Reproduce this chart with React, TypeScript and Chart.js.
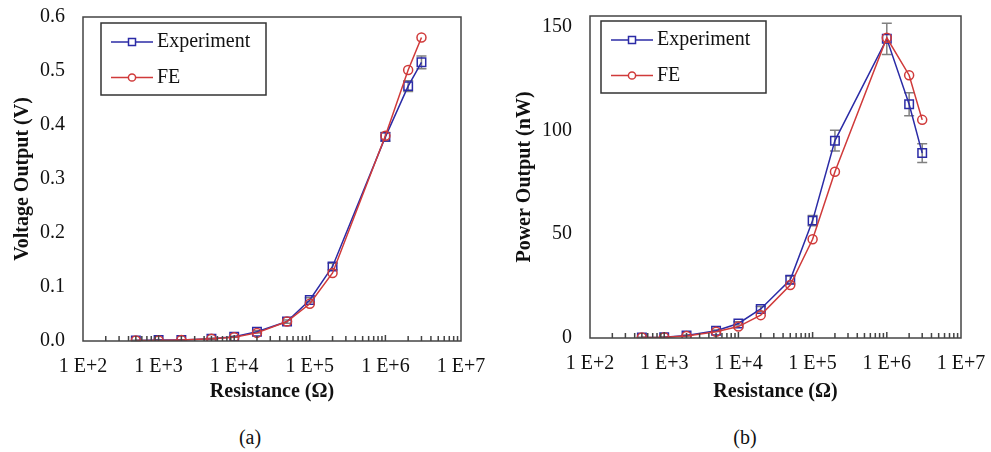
import React, { useEffect, useRef } from 'react';
import { Chart, registerables } from 'chart.js';

Chart.register(...registerables);

// ---------- data ----------
const resistance = [500, 1000, 2000, 5000, 1e4, 2e4, 5e4, 1e5, 2e5, 1e6, 2e6, 3e6];

const voltageExp = [0.001, 0.002, 0.002, 0.004, 0.008, 0.017, 0.036, 0.076, 0.138, 0.378, 0.472, 0.516];
const voltageExpErr = [0.0005, 0.0005, 0.0005, 0.001, 0.001, 0.002, 0.003, 0.004, 0.006, 0.008, 0.01, 0.012];
const voltageFE = [0.001, 0.001, 0.002, 0.004, 0.007, 0.015, 0.036, 0.069, 0.126, 0.38, 0.502, 0.562];

const powerExp = [0.3, 0.4, 1.2, 3.5, 7.0, 14.0, 28.0, 56.5, 95.0, 144.0, 112.5, 89.0];
const powerExpErr = [0.1, 0.1, 0.2, 0.4, 0.8, 1.2, 1.8, 2.5, 5.0, 7.5, 5.5, 4.5];
const powerFE = [0.3, 0.4, 1.0, 3.0, 5.5, 11.0, 25.5, 47.5, 80.0, 144.5, 126.5, 105.0];

const xMajorTicks = [1e2, 1e3, 1e4, 1e5, 1e6, 1e7];
const xTickLabels = ['1 E+2', '1 E+3', '1 E+4', '1 E+5', '1 E+6', '1 E+7'];
const xMinorMultipliers = [2, 3, 4, 5, 6, 7, 8, 9];

const voltageTicks = [0, 0.1, 0.2, 0.3, 0.4, 0.5, 0.6];
const voltageTickLabels = ['0.0', '0.1', '0.2', '0.3', '0.4', '0.5', '0.6'];
const powerTicks = [0, 50, 100, 150];
const powerTickLabels = ['0', '50', '100', '150'];

const seriesNames = ['Experiment', 'FE'];

// ---------- styles ----------
const FONT = "'Liberation Serif', 'Times New Roman', serif";
const BLUE = '#2b2ba6';
const RED = '#d03a3a';
const ERR = '#808080';
const AXIS = '#444444';

const allXTicks: number[] = [];
for (let i = 0; i < xMajorTicks.length; i++) {
  allXTicks.push(xMajorTicks[i]);
  if (i < xMajorTicks.length - 1) {
    xMinorMultipliers.forEach((m) => allXTicks.push(m * xMajorTicks[i]));
  }
}

const frameTicksPlugin = {
  id: 'frameTicks',
  afterDraw(chart: any) {
    const { ctx, chartArea: a } = chart;
    const xs = chart.scales.x;
    ctx.save();
    ctx.strokeStyle = AXIS;
    ctx.lineWidth = 1.5;
    ctx.beginPath();
    xs.ticks.forEach((t: any) => {
      const px = xs.getPixelForValue(t.value);
      if (px <= a.left + 1 || px >= a.right - 1) return;
      const len = xMajorTicks.includes(t.value) ? 6 : 5;
      ctx.moveTo(px, a.bottom);
      ctx.lineTo(px, a.bottom - len);
    });
    ctx.stroke();
    ctx.strokeRect(a.left, a.top, a.right - a.left, a.bottom - a.top);
    ctx.restore();
  },
};

const errorBarPlugin = {
  id: 'errorBars',
  beforeDatasetsDraw(chart: any) {
    const { ctx } = chart;
    const ys = chart.scales.y;
    chart.data.datasets.forEach((ds: any, i: number) => {
      const errs: number[] | undefined = ds.errors;
      if (!errs) return;
      const meta = chart.getDatasetMeta(i);
      ctx.save();
      ctx.strokeStyle = ERR;
      ctx.lineWidth = 1.5;
      meta.data.forEach((pt: any, j: number) => {
        const v = ds.data[j].y;
        const e = errs[j];
        const yTop = ys.getPixelForValue(v + e);
        const yBot = ys.getPixelForValue(v - e);
        const x = pt.x;
        ctx.beginPath();
        ctx.moveTo(x, yTop);
        ctx.lineTo(x, yBot);
        ctx.moveTo(x - 5, yTop);
        ctx.lineTo(x + 5, yTop);
        ctx.moveTo(x - 5, yBot);
        ctx.lineTo(x + 5, yBot);
        ctx.stroke();
      });
      ctx.restore();
    });
  },
};

const boxLegendPlugin = {
  id: 'boxLegend',
  afterDraw(chart: any) {
    const o = chart.options.plugins.boxLegend || {};
    const { ctx, chartArea: a } = chart;
    const x0 = a.left + (o.dx ?? 18);
    const y0 = a.top + (o.dy ?? 6);
    const w = 165;
    const h = 72;
    ctx.save();
    ctx.fillStyle = '#ffffff';
    ctx.fillRect(x0, y0, w, h);
    ctx.strokeStyle = '#333333';
    ctx.lineWidth = 1.5;
    ctx.strokeRect(x0, y0, w, h);
    chart.data.datasets.forEach((ds: any, i: number) => {
      const y = y0 + 19 + i * 35.5;
      ctx.strokeStyle = ds.borderColor;
      ctx.lineWidth = 1.5;
      ctx.beginPath();
      ctx.moveTo(x0 + 10, y);
      ctx.lineTo(x0 + 52, y);
      ctx.stroke();
      ctx.beginPath();
      if (ds.pointStyle === 'rect') {
        ctx.rect(x0 + 31 - 3.5, y - 3.5, 7, 7);
      } else {
        ctx.arc(x0 + 31, y, 3.6, 0, Math.PI * 2);
      }
      ctx.fillStyle = '#ffffff';
      ctx.fill();
      ctx.stroke();
      ctx.fillStyle = '#111111';
      ctx.font = `20px ${FONT}`;
      ctx.textBaseline = 'middle';
      ctx.textAlign = 'left';
      ctx.fillText(ds.label, x0 + 56, y);
    });
    ctx.restore();
  },
};

type PanelProps = {
  expValues: number[];
  expErrors: number[];
  feValues: number[];
  yTicks: number[];
  yTickLabels: string[];
  yMax: number;
  yTitle: string;
  width: number;
  height: number;
  plotLeft: number;
  plotRight: number;
  padTop: number;
  xAxisHeight: number;
  yTitlePad: number;
  legendDx: number;
  legendDy: number;
};

function Panel(p: PanelProps) {
  const ref = useRef<HTMLCanvasElement | null>(null);
  useEffect(() => {
    if (!ref.current) return;
    const chart = new Chart(ref.current, {
      type: 'line',
      data: {
        datasets: [
          {
            label: seriesNames[0],
            data: resistance.map((r, i) => ({ x: r, y: p.expValues[i] })),
            borderColor: BLUE,
            backgroundColor: 'rgba(0,0,0,0)',
            borderWidth: 1.5,
            pointStyle: 'rect',
            pointRadius: 6,
            pointBorderWidth: 1.5,
            pointBorderColor: BLUE,
            pointBackgroundColor: 'rgba(0,0,0,0)',
            tension: 0,
            order: 1,
            errors: p.expErrors,
          } as any,
          {
            label: seriesNames[1],
            data: resistance.map((r, i) => ({ x: r, y: p.feValues[i] })),
            borderColor: RED,
            backgroundColor: 'rgba(0,0,0,0)',
            borderWidth: 1.5,
            pointStyle: 'circle',
            pointRadius: 4.5,
            pointBorderWidth: 1.5,
            pointBorderColor: RED,
            pointBackgroundColor: 'rgba(0,0,0,0)',
            tension: 0,
            order: 0,
          } as any,
        ],
      },
      options: {
        animation: false,
        responsive: false,
        maintainAspectRatio: false,
        layout: {
          autoPadding: false,
          padding: {
            left: 0,
            top: p.padTop,
            right: p.width - p.plotRight,
            bottom: 0,
          },
        } as any,
        plugins: {
          legend: { display: false },
          tooltip: { enabled: false },
          boxLegend: { dx: p.legendDx, dy: p.legendDy },
        } as any,
        scales: {
          x: {
            type: 'logarithmic',
            min: 100,
            max: 1e7,
            grid: { display: false, drawTicks: false },
            border: { display: false },
            afterBuildTicks: (scale: any) => {
              scale.ticks = allXTicks.map((v) => ({ value: v, major: xMajorTicks.includes(v) }));
            },
            afterFit: (scale: any) => {
              scale.height = p.xAxisHeight;
              scale.paddingLeft = 0;
              scale.paddingRight = 0;
              scale.paddingTop = 0;
              scale.paddingBottom = 0;
            },
            ticks: {
              autoSkip: false,
              maxRotation: 0,
              minRotation: 0,
              padding: 14,
              color: '#111111',
              font: { family: FONT, size: 20 },
              callback: (value: any) => {
                const i = xMajorTicks.indexOf(Number(value));
                return i >= 0 ? xTickLabels[i] : '';
              },
            },
            title: {
              display: true,
              text: 'Resistance (Ω)',
              color: '#111111',
              font: { family: FONT, size: 20, weight: 'bold' },
              padding: { top: 0, bottom: 16 },
            },
          },
          y: {
            type: 'linear',
            min: 0,
            max: p.yMax,
            grid: { display: false, drawTicks: false },
            border: { display: false },
            afterBuildTicks: (scale: any) => {
              scale.ticks = p.yTicks.map((v) => ({ value: v }));
            },
            afterFit: (scale: any) => {
              scale.width = p.plotLeft;
              scale.paddingLeft = 0;
              scale.paddingRight = 0;
              scale.paddingTop = 0;
              scale.paddingBottom = 0;
            },
            ticks: {
              padding: 18,
              color: '#111111',
              font: { family: FONT, size: 20 },
              callback: (value: any) => {
                const i = p.yTicks.findIndex((t) => Math.abs(t - Number(value)) < 1e-9);
                return i >= 0 ? p.yTickLabels[i] : '';
              },
            },
            title: {
              display: true,
              text: p.yTitle,
              color: '#111111',
              font: { family: FONT, size: 20, weight: 'bold' },
              padding: { top: p.yTitlePad, bottom: 0 },
            },
          },
        },
      } as any,
      plugins: [errorBarPlugin, frameTicksPlugin, boxLegendPlugin],
    });
    return () => chart.destroy();
  }, []);
  return (
    <canvas
      ref={ref}
      width={p.width}
      height={p.height}
      style={{ width: p.width, height: p.height, display: 'block' }}
    />
  );
}

export default function App() {
  const caption: React.CSSProperties = {
    position: 'absolute',
    top: 424,
    fontFamily: FONT,
    fontSize: 20,
    color: '#111',
    width: 60,
    textAlign: 'center',
    lineHeight: '26px',
  };
  return (
    <div
      style={{
        position: 'fixed',
        left: 0,
        top: 0,
        width: 991,
        height: 452,
        background: '#ffffff',
        overflow: 'hidden',
      }}
    >
      <div style={{ position: 'absolute', left: 0, top: 0 }}>
        <Panel
          expValues={voltageExp}
          expErrors={voltageExpErr}
          feValues={voltageFE}
          yTicks={voltageTicks}
          yTickLabels={voltageTickLabels}
          yMax={0.6}
          yTitle="Voltage Output (V)"
          width={495}
          height={420}
          plotLeft={83}
          plotRight={461}
          padTop={17}
          xAxisHeight={79}
          yTitlePad={11}
          legendDx={18}
          legendDy={6}
        />
      </div>
      <div style={{ position: 'absolute', left: 495, top: 0 }}>
        <Panel
          expValues={powerExp}
          expErrors={powerExpErr}
          feValues={powerFE}
          yTicks={powerTicks}
          yTickLabels={powerTickLabels}
          yMax={155}
          yTitle="Power Output (nW)"
          width={496}
          height={420}
          plotLeft={95}
          plotRight={466}
          padTop={16}
          xAxisHeight={82}
          yTitlePad={18}
          legendDx={11}
          legendDy={5}
        />
      </div>
      <div style={{ ...caption, left: 250 - 30 }}>(a)</div>
      <div style={{ ...caption, left: 745 - 30 }}>(b)</div>
    </div>
  );
}
